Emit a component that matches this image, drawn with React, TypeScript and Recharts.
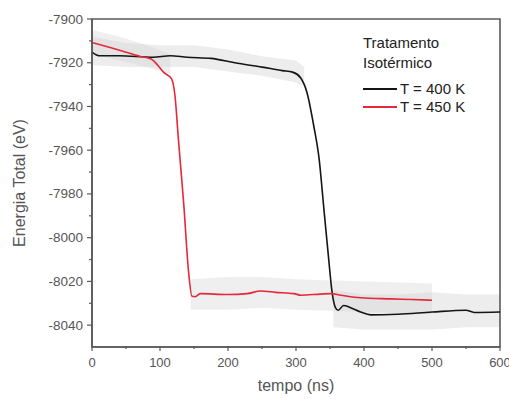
import React from "react";
import {
  ComposedChart,
  Line,
  Area,
  XAxis,
  YAxis,
  ReferenceArea,
  Label,
} from "recharts";

// T = 400 K (smoothed)
const t400 = [0, 10, 40, 90, 115, 140, 175, 210, 250, 280, 295, 307, 316, 326, 334, 341, 348, 353, 358, 362, 370, 380, 395, 410, 450, 500, 550, 562, 600];
const e400 = [-7915.2, -7916.8, -7916.8, -7917.5, -7916.8, -7917.5, -7918, -7920, -7922, -7923.6, -7924.3, -7927, -7933.5, -7948.7, -7964, -7986.8, -8009.6, -8024.8, -8032, -8033.2, -8031, -8032, -8034, -8035.3, -8035, -8034, -8033.2, -8034.2, -8034];

// T = 450 K (smoothed)
const t450 = [0, 20, 43, 70, 87, 95, 105, 117, 122, 127, 135, 142, 147, 152, 159, 200, 228, 248, 270, 297, 307, 336, 351, 366, 395, 439, 470, 500];
const e450 = [-7910.7, -7912.5, -7914.5, -7917, -7918.3, -7920.5, -7924.3, -7927.4, -7935, -7954.8, -7985, -8015.6, -8026.8, -8027, -8025.6, -8026, -8025.6, -8024.4, -8025, -8025.6, -8026.3, -8025.8, -8025.6, -8026.3, -8027.5, -8028, -8028.3, -8028.6];

// raw (noisy) data envelopes, grey
const raw400aT = [0, 50, 100, 150, 200, 250, 300, 312];
const raw400aLo = [-7921, -7922, -7922, -7922, -7924, -7926, -7929, -7931];
const raw400aHi = [-7908, -7911, -7912, -7912, -7914, -7917, -7919, -7922];
const raw400bT = [355, 400, 450, 500, 550, 600];
const raw400bLo = [-8041, -8042, -8042, -8042, -8041, -8041];
const raw400bHi = [-8024, -8026, -8026, -8025, -8026, -8026];
const raw450aT = [0, 40, 80, 115];
const raw450aLo = [-7916, -7919, -7922, -7925];
const raw450aHi = [-7905, -7908, -7912, -7916];
const raw450bT = [145, 200, 250, 300, 400, 500];
const raw450bLo = [-8033, -8033, -8032, -8033, -8034, -8035];
const raw450bHi = [-8019, -8018, -8018, -8019, -8020, -8021];

const xTicks = [0, 50, 100, 150, 200, 250, 300, 350, 400, 450, 500, 550, 600];
const yTicks = [-8040, -8030, -8020, -8010, -8000, -7990, -7980, -7970, -7960, -7950, -7940, -7930, -7920, -7910, -7900];

const series = (ts: number[], es: number[]) => ts.map((t, i) => ({ t, e: es[i] }));
const band = (ts: number[], lo: number[], hi: number[]) =>
  ts.map((t, i) => ({ t, r: [lo[i], hi[i]] }));

const FONT = "'Liberation Sans', Arial, sans-serif";
const AXIS = "#5a5a5a";
const TXT = "#555";

const XTick = (props: any) => {
  const { x, y, payload } = props;
  const major = payload.value % 100 === 0;
  return (
    <g>
      <line x1={x} y1={y - 1} x2={x} y2={y + (major ? 4 : 2)} stroke={AXIS} strokeWidth={1.2} />
      {major && (
        <text x={x} y={y + 20} textAnchor="middle" fontSize={13} fill={TXT} fontFamily={FONT}>
          {payload.value}
        </text>
      )}
    </g>
  );
};

const YTick = (props: any) => {
  const { x, y, payload } = props;
  const major = payload.value % 20 === 0;
  return (
    <g>
      <line x1={x - (major ? 5 : 3)} y1={y} x2={x} y2={y} stroke={AXIS} strokeWidth={1.2} />
      {major && (
        <text x={x - 9} y={y + 4.5} textAnchor="end" fontSize={13.5} fill={TXT} fontFamily={FONT}>
          {payload.value}
        </text>
      )}
    </g>
  );
};

const YTitle = (props: any) => {
  const { x, y, height } = props.viewBox;
  const cx = x + 19;
  const cy = y + height / 2;
  return (
    <text
      x={cx}
      y={cy}
      transform={`rotate(-90 ${cx} ${cy})`}
      textAnchor="middle"
      dominantBaseline="central"
      fontSize={16}
      fill={TXT}
      fontFamily={FONT}
    >
      Energia Total (eV)
    </text>
  );
};

const XTitle = (props: any) => {
  const { x, y, width } = props.viewBox;
  return (
    <text
      x={x + width / 2}
      y={y + 38}
      textAnchor="middle"
      dominantBaseline="central"
      fontSize={16}
      fill={TXT}
      fontFamily={FONT}
    >
      tempo (ns)
    </text>
  );
};

const legendText: React.CSSProperties = {
  position: "absolute",
  fontFamily: FONT,
  fontSize: 15,
  lineHeight: "18px",
  color: "#222",
  whiteSpace: "nowrap",
};

export default function App() {
  const grey = "#d2d2d2";
  return (
    <div style={{ position: "absolute", left: 0, top: 0, width: 509, height: 399, background: "#fff" }}>
      <ComposedChart width={509} height={399} margin={{ top: 19, right: 9, left: 0, bottom: 0 }}>
        <XAxis
          dataKey="t"
          type="number"
          domain={[0, 600]}
          ticks={xTicks}
          interval={0}
          height={52}
          tickSize={0}
          tickMargin={0}
          tick={<XTick />}
          stroke={AXIS}
          strokeWidth={1.5}
          allowDuplicatedCategory={false}
        >
          <Label content={<XTitle />} />
        </XAxis>
        <YAxis
          type="number"
          domain={[-8050, -7900]}
          ticks={yTicks}
          interval={0}
          width={92}
          tickSize={0}
          tickMargin={0}
          tick={<YTick />}
          stroke={AXIS}
          strokeWidth={1.5}
        >
          <Label content={<YTitle />} />
        </YAxis>
        <Area data={band(raw400aT, raw400aLo, raw400aHi)} dataKey="r" stroke="none" fill={grey} fillOpacity={0.4} isAnimationActive={false} />
        <Area data={band(raw400bT, raw400bLo, raw400bHi)} dataKey="r" stroke="none" fill={grey} fillOpacity={0.4} isAnimationActive={false} />
        <Area data={band(raw450aT, raw450aLo, raw450aHi)} dataKey="r" stroke="none" fill={grey} fillOpacity={0.35} isAnimationActive={false} />
        <Area data={band(raw450bT, raw450bLo, raw450bHi)} dataKey="r" stroke="none" fill={grey} fillOpacity={0.35} isAnimationActive={false} />
        <Line data={series(t400, e400)} dataKey="e" type="monotone" stroke="#151515" strokeWidth={1.6} dot={false} isAnimationActive={false} />
        <Line data={series(t450, e450)} dataKey="e" type="monotone" stroke="#e5283a" strokeWidth={1.6} dot={false} isAnimationActive={false} />
        <ReferenceArea x1={0} x2={600} y1={-8050} y2={-7900} fill="none" stroke={AXIS} strokeWidth={1.6} />
      </ComposedChart>
      <div style={{ ...legendText, left: 363, top: 34 }}>Tratamento</div>
      <div style={{ ...legendText, left: 363, top: 54 }}>Isotérmico</div>
      <div style={{ position: "absolute", left: 363, top: 88, width: 34, height: 1.6, background: "#151515" }} />
      <div style={{ ...legendText, left: 400, top: 80 }}>T = 400 K</div>
      <div style={{ position: "absolute", left: 363, top: 106, width: 34, height: 1.6, background: "#e5283a" }} />
      <div style={{ ...legendText, left: 400, top: 98 }}>T = 450 K</div>
    </div>
  );
}
